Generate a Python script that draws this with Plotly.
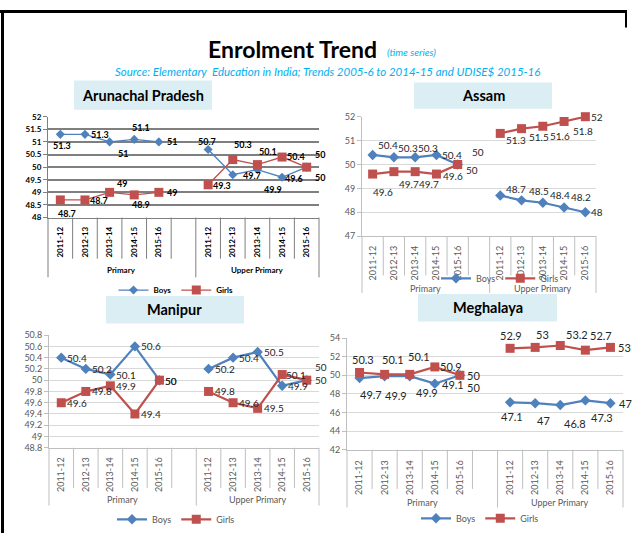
import plotly.graph_objects as go

W, H = 632, 538

# ---- data -------------------------------------------------------------
periods = ["2011-12", "2012-13", "2013-14", "2014-15", "2015-16"]
levels = ["Primary", "Upper Primary"]
series_names = ["Boys", "Girls"]

# values: 5 Primary periods followed by 5 Upper Primary periods
arunachal_boys = [51.3, 51.3, 51.0, 51.1, 51.0, 50.7, 49.7, 49.9, 49.6, 50.0]
arunachal_girls = [48.7, 48.7, 49.0, 48.9, 49.0, 49.3, 50.3, 50.1, 50.4, 50.0]
assam_boys = [50.4, 50.3, 50.3, 50.4, 50.0, 48.7, 48.5, 48.4, 48.2, 48.0]
assam_girls = [49.6, 49.7, 49.7, 49.6, 50.0, 51.3, 51.5, 51.6, 51.8, 52.0]
manipur_boys = [50.4, 50.2, 50.1, 50.6, 50.0, 50.2, 50.4, 50.5, 49.9, 50.0]
manipur_girls = [49.6, 49.8, 49.9, 49.4, 50.0, 49.8, 49.6, 49.5, 50.1, 50.0]
meghalaya_boys = [49.7, 49.9, 49.9, 49.1, 50.0, 47.1, 47.0, 46.8, 47.3, 47.0]
meghalaya_girls = [50.3, 50.1, 50.1, 50.9, 50.0, 52.9, 53.0, 53.2, 52.7, 53.0]

BOYS_C = "#4F81BD"
GIRLS_C = "#C0504D"
FONT = "Lato, 'Open Sans', sans-serif"


def fx(p):
    return p / W


def fy(p):
    return 1 - p / H


# category slots: 0-4 Primary, 5 blank, 6-10 Upper Primary
slots = list(range(11))
slot_labels = periods + [""] + periods


def with_gap(vals):
    return vals[:5] + [None] + vals[5:]


def xs_for(vals):
    return [i for i, v in zip(slots, with_gap(vals)) if v is not None]


# label offsets in pixels: (right, up)
panels = [
    dict(title="Arunachal Pradesh", boys=arunachal_boys, girls=arunachal_girls,
         xpx=(48, 319), ypx=(113, 216), yrange=(48, 52), dtick=0.5,
         grid="#7F7F7F", gridw=1.6, axis="#7F7F7F", tickfont=dict(size=8, color="#000", family=FONT, weight="bold"),
         labfont=dict(size=9, color="#000", family=FONT, weight="bold"), lw=1.3, msize=(7, 9),
         inner_bot=258, group_bot=277, group_y=270, legend_xy=(176, 290), ticklab_gap=5,
         box=(74, 76, 212, 106),
         boys_off=[(2, -11), (15, 0), (13, -12), (7, 12), (13, 0), (-1, 8), (19, -1), (16, -20), (12, -1), (13, 13)],
         girls_off=[(7, -14), (14, -1), (12, 9), (7, -10), (13, 0), (14, -1), (10, 15), (11, 13), (14, 1), (13, -10)]),
    dict(title="Assam", boys=assam_boys, girls=assam_girls,
         xpx=(362, 596), ypx=(113, 235), yrange=(47, 52), dtick=1,
         grid="#D9D9D9", gridw=1, axis="#BFBFBF", tickfont=dict(size=9, color="#595959", family=FONT),
         labfont=dict(size=10, color="#262626", family=FONT), lw=2.2, msize=(8, 9),
         inner_bot=275, group_bot=293, group_y=288, legend_xy=(500, 278), ticklab_gap=5,
         box=(414, 78, 552, 105),
         boys_off=[(15, 10), (14, 9), (13, 9), (16, 0), (20, 12), (16, 7), (17, 9), (17, 8), (17, 11), (12, 0)],
         girls_off=[(10, -18), (15, -12), (14, -12), (17, -2), (14, -6), (16, -7), (17, -8), (17, -10), (19, -10), (12, 0)]),
    dict(title="Manipur", boys=manipur_boys, girls=manipur_girls,
         xpx=(49, 319), ypx=(336, 451), yrange=(48.8, 50.8), dtick=0.2,
         grid="#D9D9D9", gridw=1, axis="#BFBFBF", tickfont=dict(size=9, color="#595959", family=FONT),
         labfont=dict(size=10, color="#262626", family=FONT), lw=2.2, msize=(8, 9),
         inner_bot=492, group_bot=510, group_y=504, legend_xy=(176, 524), ticklab_gap=5,
         box=(106, 296, 244, 324),
         boys_off=[(16, 0)] * 4 + [(12, -1)] + [(16, 0)] * 4 + [(14, 13)],
         girls_off=[(16, 0)] * 4 + [(12, -1)] + [(16, 0)] * 3 + [(14, 0), (14, 0)]),
    dict(title="Meghalaya", boys=meghalaya_boys, girls=meghalaya_girls,
         xpx=(347, 623), ypx=(339, 453), yrange=(42, 54), dtick=2,
         grid="#D9D9D9", gridw=1, axis="#BFBFBF", tickfont=dict(size=9, color="#595959", family=FONT),
         labfont=dict(size=11, color="#262626", family=FONT), lw=2.2, msize=(8, 9),
         inner_bot=493, group_bot=512, group_y=507, legend_xy=(480, 523), ticklab_gap=6,
         box=(418, 294, 557, 322),
         boys_off=[(11, -16), (11, -19), (17, -16), (18, -1), (14, -12), (2, -14), (8, -17), (15, -18), (17, -17), (15, 0)],
         girls_off=[(3, 13), (8, 15), (9, 18), (16, 0), (14, 0), (1, 13), (7, 13), (17, 11), (16, 15), (14, 0)]),
]

fig = go.Figure()
shapes = []
annotations = []
layout = {}

for n, p in enumerate(panels, start=1):
    xa = "x" if n == 1 else f"x{n}"
    ya = "y" if n == 1 else f"y{n}"
    leg = "legend" if n == 1 else f"legend{n}"

    for name, vals, color, symbol, ms, offs in (
        (series_names[0], p["boys"], BOYS_C, "diamond", p["msize"][0], p["boys_off"]),
        (series_names[1], p["girls"], GIRLS_C, "square", p["msize"][1], p["girls_off"]),
    ):
        fig.add_trace(go.Scatter(
            x=slots, y=with_gap(vals), name=name, mode="lines+markers",
            connectgaps=False, xaxis=xa, yaxis=ya, legend=leg,
            line=dict(color=color, width=p["lw"]),
            marker=dict(symbol=symbol, size=ms, color=color),
            cliponaxis=False, hoverinfo="skip",
        ))
        for xv, yv, (dx, dy) in zip(xs_for(vals), vals, offs):
            annotations.append(dict(
                x=xv, y=yv, xref=xa, yref=ya, text=f"{yv:g}", showarrow=False,
                xshift=dx, yshift=dy, font=p["labfont"], xanchor="center", yanchor="middle",
            ))

    x0, x1 = p["xpx"]
    ytop, ybot = p["ypx"]
    layout[f"xaxis{'' if n == 1 else n}"] = dict(
        domain=[fx(x0), fx(x1)], anchor=ya, range=[-0.5, 10.5],
        tickmode="array", tickvals=slots, ticktext=slot_labels, tickangle=-90,
        ticks="", showgrid=False, zeroline=False, showline=True, linecolor=p["axis"],
        linewidth=1, tickfont=p["tickfont"], ticklabelstandoff=p["ticklab_gap"],
    )
    layout[f"yaxis{'' if n == 1 else n}"] = dict(
        domain=[fy(ybot), fy(ytop)], anchor=xa, range=list(p["yrange"]), dtick=p["dtick"],
        tick0=p["yrange"][0], showgrid=True, gridcolor=p["grid"], gridwidth=p["gridw"],
        zeroline=False, showline=True, linecolor=p["axis"], linewidth=1,
        ticks="outside", ticklen=4, tickcolor=p["axis"], tickfont=p["tickfont"],
    )
    layout[leg] = dict(
        orientation="h", x=fx(p["legend_xy"][0]), y=fy(p["legend_xy"][1]),
        xanchor="center", yanchor="middle", bgcolor="rgba(0,0,0,0)",
        font=dict(size=p["tickfont"]["size"], color=p["tickfont"]["color"], family=FONT,
                  weight=p["tickfont"].get("weight", "normal")),
        itemwidth=30, tracegroupgap=0, itemclick=False, itemdoubleclick=False,
    )

    # category dividers of the two-level axis
    for b in range(12):
        bottom = p["group_bot"] if b in (0, 6, 11) else p["inner_bot"]
        shapes.append(dict(type="line", xref=f"{xa} domain", yref="paper",
                           x0=b / 11, x1=b / 11, y0=fy(ybot), y1=fy(bottom),
                           line=dict(color=p["axis"], width=1)))
    for gx, glab in zip((2.5, 8), levels):
        annotations.append(dict(x=gx, y=fy(p["group_y"]), xref=xa, yref="paper", text=glab,
                                showarrow=False, font=p["tickfont"], yanchor="middle"))

    # panel heading box
    bx0, by0, bx1, by1 = p["box"]
    shapes.append(dict(type="rect", xref="paper", yref="paper", layer="below",
                       x0=fx(bx0), x1=fx(bx1), y0=fy(by1), y1=fy(by0),
                       fillcolor="#DBEEF4", line=dict(width=0)))
    annotations.append(dict(x=fx((bx0 + bx1) / 2), y=fy((by0 + by1) / 2), xref="paper", yref="paper",
                            text=f"<b>{p['title']}</b>", showarrow=False,
                            font=dict(size=14.5, color="#000", family=FONT),
                            xanchor="center", yanchor="middle"))

# page frame
shapes.append(dict(type="line", xref="paper", yref="paper", x0=0, x1=fx(627), y0=fy(5.5), y1=fy(5.5),
                   line=dict(color="#000", width=3)))
shapes.append(dict(type="line", xref="paper", yref="paper", x0=fx(2.5), x1=fx(2.5), y0=fy(4), y1=0,
                   line=dict(color="#000", width=3)))
shapes.append(dict(type="line", xref="paper", yref="paper", x0=fx(626), x1=fx(626), y0=fy(4), y1=fy(22),
                   line=dict(color="#000", width=2)))

# headings
annotations.append(dict(x=fx(292), y=fy(44), xref="paper", yref="paper", text="<b>Enrolment Trend</b>",
                        showarrow=False, font=dict(size=23, color="#000", family=FONT),
                        xanchor="center", yanchor="middle"))
annotations.append(dict(x=fx(385), y=fy(47), xref="paper", yref="paper", text="<i>(time series)</i>",
                        showarrow=False, font=dict(size=10, color="#00B0F0", family=FONT),
                        xanchor="left", yanchor="middle"))
annotations.append(dict(x=fx(327), y=fy(67), xref="paper", yref="paper",
                        text="<i>Source: Elementary  Education in India; Trends 2005-6 to 2014-15 and UDISE$ 2015-16</i>",
                        showarrow=False, font=dict(size=11.5, color="#00B0F0", family=FONT),
                        xanchor="center", yanchor="middle"))

fig.update_layout(
    width=W, height=H, margin=dict(l=0, r=0, t=0, b=0),
    paper_bgcolor="white", plot_bgcolor="white",
    shapes=shapes, annotations=annotations, **layout,
)

fig.write_html("out.html")
